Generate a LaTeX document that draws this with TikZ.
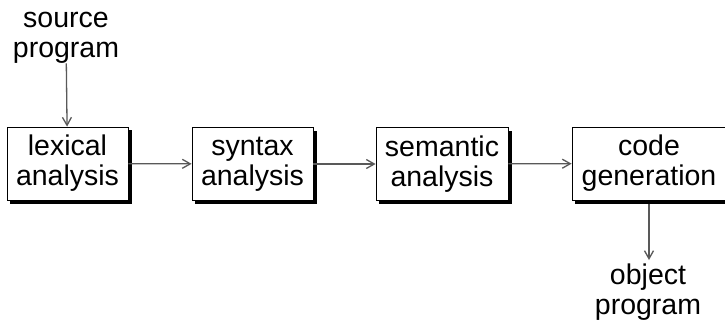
\documentclass[tikz,border=0pt]{standalone}
\usepackage{fontspec}
\setmainfont{Liberation Sans}
\usetikzlibrary{arrows.meta,backgrounds}
\begin{document}
\begin{tikzpicture}[x=1pt,y=-1pt,
  phase/.style={draw=black, line width=0.8pt, fill=white, align=center, inner sep=0pt,
    minimum height=73pt, font=\fontsize{28.5}{30}\selectfont},
  label/.style={align=center, inner sep=0pt, font=\fontsize{28.5}{30}\selectfont},
  shade/.style={fill=black},
  flow/.style={draw=black!65, line width=1.3pt, -{Straight Barb[length=8pt,width=9pt]}}]
\useasboundingbox (0,0) rectangle (725,322);
\begin{scope}
\clip (0,0) rectangle (725,322);
\node[phase, minimum width=121pt] (lex) at (67.5,163.5) {lexical\\analysis};
\node[phase, minimum width=121pt] (syn) at (252.5,164) {syntax\\analysis};
\node[phase, minimum width=132pt] (sem) at (442,164) {semantic\\analysis};
\node[phase, minimum width=154pt] (gen) at (649,163.5) {code\\generation};
\node[label] (src) at (66,37.5) {source\\program};
\node[label] (obj) at (648,292.5) {object\\program};
\draw[flow] (src) -- (lex);
\draw[flow] (lex) -- (syn);
\draw[flow] (syn) -- (sem);
\draw[flow] (sem) -- (gen);
\draw[flow, shorten >=4pt] (gen.south) ++(0,3.5) coordinate (gs) (gs) -- (gs |- obj.north);
\begin{scope}[on background layer]
\fill[white] (0,0) rectangle (725,322);
\foreach \b in {lex,syn,sem,gen}
  \fill[shade] ([shift={(3.5,3.5)}]\b.north west) rectangle ([shift={(3.5,3.5)}]\b.south east);
\end{scope}
\end{scope}
\end{tikzpicture}
\end{document}
